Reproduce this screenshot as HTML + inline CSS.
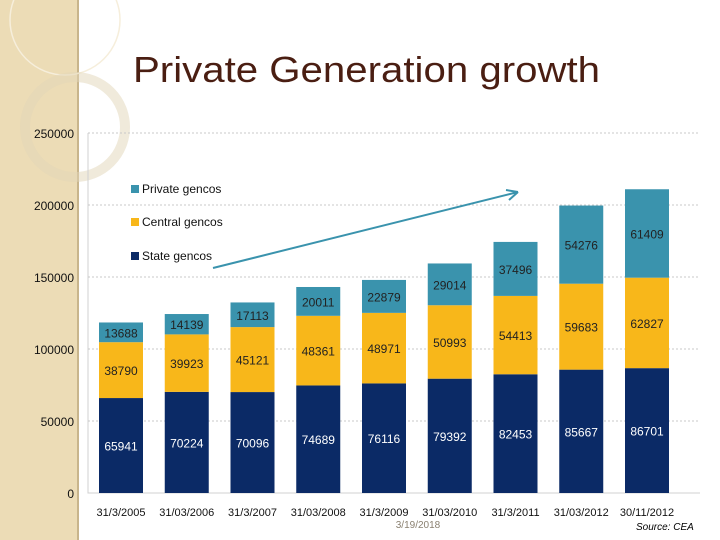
<!DOCTYPE html>
<html><head><meta charset="utf-8"><style>
body{margin:0;width:720px;height:540px;overflow:hidden;background:#fff;font-family:"Liberation Sans",sans-serif;position:relative}
</style></head><body>
<svg width="720" height="540" style="position:absolute;left:0;top:0">
<rect x="0" y="0" width="78" height="540" fill="#ecdcb6"/>
<line x1="78" y1="0" x2="78" y2="540" stroke="#c8b58c" stroke-width="2"/>
<circle cx="65" cy="20" r="55" fill="none" stroke="#f6eedb" stroke-width="1.5"/>
<circle cx="75" cy="127" r="50" fill="none" stroke="#e2d6b8" stroke-width="10" opacity="0.5"/>
<text x="133" y="82" font-size="36" textLength="467" lengthAdjust="spacingAndGlyphs" fill="#4a1e12" font-family="Liberation Sans, sans-serif">Private Generation growth</text>
<g id="chart"></g>
<text x="418" y="528" font-size="10" fill="#8a8070" text-anchor="middle">3/19/2018</text>
<text x="636" y="530" font-size="10" font-style="italic" fill="#000">Source: CEA</text>
</svg>
<script>
const categories=["31/3/2005","31/03/2006","31/3/2007","31/03/2008","31/3/2009","31/03/2010","31/3/2011","31/03/2012","30/11/2012"];
const stateVals=[65941,70224,70096,74689,76116,79392,82453,85667,86701];
const centralVals=[38790,39923,45121,48361,48971,50993,54413,59683,62827];
const privateVals=[13688,14139,17113,20011,22879,29014,37496,54276,61409];
const yTicks=[0,50000,100000,150000,200000,250000];
const NS="http://www.w3.org/2000/svg";
const g=document.getElementById('chart');
const y0=493,yScale=360/250000;
const yPos=v=>y0-v*yScale;
const xPos=i=>121+i*65.75;
const bw=44;
function el(t,a){const e=document.createElementNS(NS,t);for(const k in a)e.setAttribute(k,a[k]);g.appendChild(e);return e;}
const frame=el('path',{d:'M88 133 V493 H700',fill:'none',stroke:'#d0d0d0'});


yTicks.forEach(v=>{
  if(v>0){const l=el('line',{x1:88,x2:700,y1:yPos(v),y2:yPos(v),stroke:'#c8c8c8','stroke-dasharray':'2,2'});
  
  }
  const t=el('text',{x:74,y:yPos(v)+5,'font-size':12,'text-anchor':'end',fill:'#111'});
  t.textContent=v;
  
  
});
const series=[[stateVals,'#0b2a66','#fff','state'],[centralVals,'#f8b71a','#222','central'],[privateVals,'#3a93ad','#222','private']];
categories.forEach((c,i)=>{
  let base=0;
  series.forEach(([vals,col,tc,nm])=>{
    const v=vals[i];
    const r=el('rect',{x:xPos(i)-bw/2,y:yPos(base+v),width:bw,height:v*yScale,fill:col});
    
    
    const t=el('text',{x:xPos(i),y:yPos(base+v/2)+5,'font-size':12,'text-anchor':'middle',fill:tc});
    t.textContent=v;
    
    
    base+=v;
  });
  const t=el('text',{x:xPos(i),y:516,'font-size':11,'text-anchor':'middle',fill:'#111'});
  t.textContent=c;
  
  
});
const leg=[['Private gencos','#3a93ad',190],['Central gencos','#f8b71a',223],['State gencos','#0b2a66',257]];
leg.forEach(([n,c,y])=>{
  const r=el('rect',{x:131,y:y-5,width:8,height:8,fill:c});
  
  
  const t=el('text',{x:142,y:y+3,'font-size':12,fill:'#111'});
  t.textContent=n;
  
  
});
const ar=el('path',{d:'M213 268 L518 192 M518 192 L506 190 M518 192 L509 200',stroke:'#3a93ad','stroke-width':2,fill:'none'});


</script>
</body></html>
